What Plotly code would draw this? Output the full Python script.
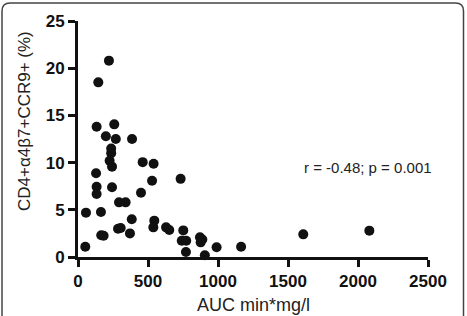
import plotly.graph_objects as go

# Data
auc = [221, 145, 133, 259, 199, 270, 386, 237, 237, 226, 243, 462, 540, 129, 733,
       529, 133, 133, 243, 450, 293, 340, 57, 164, 384, 545, 538, 629, 652, 286,
       305, 166, 183, 371, 752, 741, 773, 771, 871, 888, 876, 906, 990, 1165, 52,
       1609, 2081]
cells = [20.8, 18.5, 13.8, 14.05, 12.8, 12.5, 12.5, 11.5, 11.0, 10.2, 9.57, 10.05, 9.87,
         8.88, 8.28, 8.08, 7.45, 6.67, 7.38, 6.81, 5.79, 5.79, 4.7, 4.77, 3.99, 3.85,
         3.14, 3.14, 2.86, 3.0, 3.07, 2.3, 2.25, 2.5, 2.82, 1.73, 1.73, 0.53, 2.09,
         1.85, 1.55, 0.18, 1.03, 1.09, 1.09, 2.4, 2.79]
x_ticks = [0, 500, 1000, 1500, 2000, 2500]
y_ticks = [0, 5, 10, 15, 20, 25]
x_title = "AUC min*mg/l"
y_title = "CD4+α4β7+CCR9+ (%)"
stat_text = "r = -0.48; p = 0.001"

W, H = 467, 316
L, R, T, B = 78, 39, 21, 59
pw, ph = W - L - R, H - T - B

def px(x):
    return (x - L) / pw

def py(y):
    return (H - B - y) / ph

fig = go.Figure()
fig.add_trace(go.Scatter(
    x=auc, y=cells, mode="markers",
    marker=dict(size=10, color="#111111", line=dict(width=0)),
    cliponaxis=False, showlegend=False, hoverinfo="skip"))

axis_common = dict(
    showgrid=False, zeroline=False, showline=True, linecolor="#111111", linewidth=3,
    ticks="outside", ticklen=7, tickwidth=3, tickcolor="#111111", automargin=False,
    tickfont=dict(family="Liberation Sans", size=17, color="#111111", weight="bold"),
)

fig.update_xaxes(range=[0, 2500], tickvals=x_ticks, ticktext=[str(v) for v in x_ticks],
                 **axis_common)
fig.update_yaxes(range=[0, 25], tickvals=y_ticks, ticktext=[str(v) for v in y_ticks],
                 **axis_common)

fig.add_annotation(x=px(253), y=py(305), xref="paper", yref="paper", text=x_title,
                   showarrow=False, xanchor="center", yanchor="middle",
                   font=dict(family="Liberation Sans", size=18, color="#222222"))
fig.add_annotation(x=px(24), y=py(121), xref="paper", yref="paper", text=y_title,
                   showarrow=False, xanchor="center", yanchor="middle", textangle=-90,
                   font=dict(family="Liberation Sans", size=17, color="#222222"))
fig.add_annotation(x=px(368), y=py(167), xref="paper", yref="paper", text=stat_text,
                   showarrow=False, xanchor="center", yanchor="middle",
                   font=dict(family="Liberation Sans", size=15, color="#222222"))

# Rounded frame around the figure
l, r, t, b, rad = 2, 463.5, 3, 330, 8
path = (f"M {px(l)},{py(b)} L {px(l)},{py(t + rad)} Q {px(l)},{py(t)} {px(l + rad)},{py(t)} "
        f"L {px(r - rad)},{py(t)} Q {px(r)},{py(t)} {px(r)},{py(t + rad)} L {px(r)},{py(b)}")
fig.add_shape(type="path", path=path, xref="paper", yref="paper",
              line=dict(color="#444444", width=1.5))

fig.update_layout(width=W, height=H, margin=dict(l=L, r=R, t=T, b=B),
                  paper_bgcolor="white", plot_bgcolor="white")

fig.write_html("out.html")
